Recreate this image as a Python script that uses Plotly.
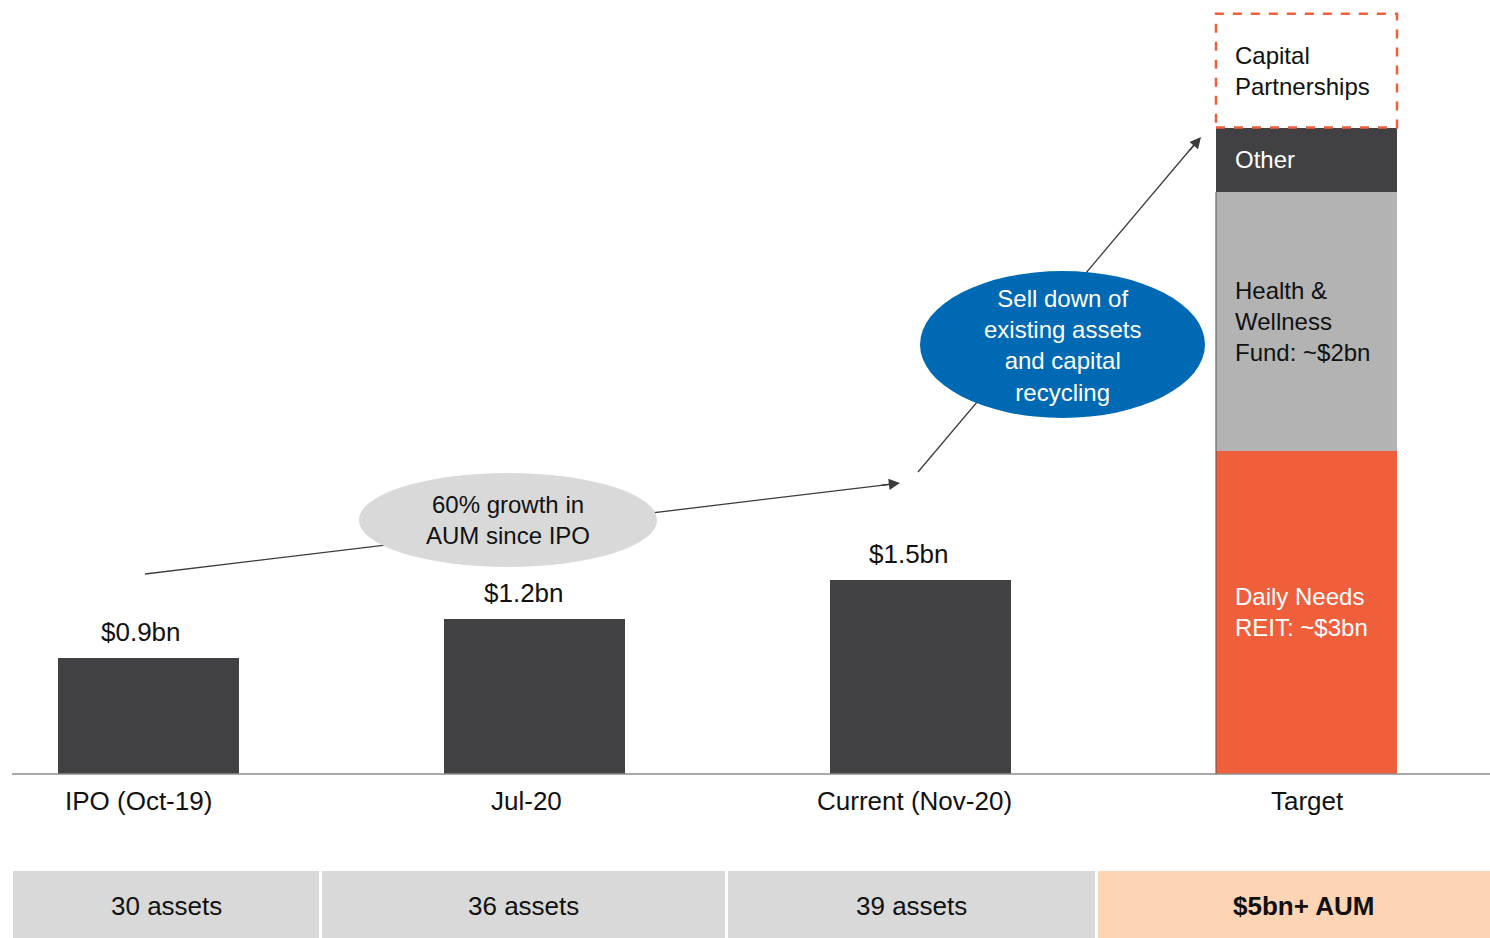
import plotly.graph_objects as go

# ---------------- data ----------------
periods = ["IPO (Oct-19)", "Jul-20", "Current (Nov-20)", "Target"]
aum_bn = [0.9, 1.2, 1.5]
value_labels = ["$0.9bn", "$1.2bn", "$1.5bn"]
target_segments = ["Daily Needs<br>REIT: ~$3bn", "Health &<br>Wellness<br>Fund: ~$2bn", "Other"]
target_values = [2.5, 2.0, 0.5]
capital_partnerships_label = "Capital<br>Partnerships"
capital_partnerships_value = 0.88
asset_labels = ["30 assets", "36 assets", "39 assets", "<b>$5bn+ AUM</b>"]
bubble1_text = "60% growth in<br>AUM since IPO"
bubble2_text = "Sell down of<br>existing assets<br>and capital<br>recycling"

# ---------------- style ----------------
W, H = 1490, 938
DARK = "#414042"
ORANGE = "#F05F3C"
GREY = "#B3B3B4"
BLUE = "#0069B4"
BUBBLE_GREY = "#D9D9DA"
TABLE_GREY = "#D9D9D9"
PEACH = "#FDD4B4"
FONT = "Liberation Sans, Arial, Helvetica, sans-serif"
BAR_W = 0.469


def px(x):
    return x / W


def py(y):
    return 1 - y / H


fig = go.Figure()

fig.add_trace(go.Bar(x=[0, 1, 2], y=aum_bn, width=BAR_W, marker=dict(color=DARK, line=dict(width=0)),
                     hoverinfo="skip"))
seg_colors = [ORANGE, GREY, DARK]
for name, v, c in zip(target_segments, target_values, seg_colors):
    fig.add_trace(go.Bar(x=[3], y=[v], width=BAR_W, marker=dict(color=c, line=dict(width=0)),
                         name=name, hoverinfo="skip"))

shapes = []
annotations = []

# baseline
shapes.append(dict(type="line", xref="paper", yref="y", x0=px(12), x1=1, y0=0, y1=0,
                   line=dict(color="#8C8C8C", width=1.3), layer="above"))

# thin dark left edge on the target bar
shapes.append(dict(type="line", xref="x", yref="y", x0=3 - BAR_W / 2, x1=3 - BAR_W / 2,
                   y0=0, y1=target_values[0] + target_values[1],
                   line=dict(color="#555555", width=1), layer="above"))

# dashed capital partnerships box
top_solid = sum(target_values)
shapes.append(dict(type="rect", xref="x", yref="y", x0=3 - BAR_W / 2, x1=3 + BAR_W / 2,
                   y0=top_solid, y1=top_solid + capital_partnerships_value,
                   line=dict(color=ORANGE, width=2.5, dash="dash"), fillcolor="white", layer="above"))

# trend lines (drawn before bubbles so bubbles cover them)
LINE_C = "#3C3C3C"
shapes.append(dict(type="line", xref="paper", yref="paper", x0=px(145), y0=py(574), x1=px(898), y1=py(483.3),
                   line=dict(color=LINE_C, width=1.3), layer="above"))
shapes.append(dict(type="line", xref="paper", yref="paper", x0=px(918), y0=py(472), x1=px(1199), y1=py(139),
                   line=dict(color=LINE_C, width=1.3), layer="above"))

# bubbles
shapes.append(dict(type="circle", xref="paper", yref="paper", x0=px(359), x1=px(657), y0=py(567), y1=py(473),
                   fillcolor=BUBBLE_GREY, line=dict(width=0), layer="above"))
shapes.append(dict(type="circle", xref="paper", yref="paper", x0=px(920), x1=px(1205), y0=py(418), y1=py(271),
                   fillcolor=BLUE, line=dict(width=0), layer="above"))

annotations.append(dict(xref="paper", yref="paper", x=px(508), y=py(520), text=bubble1_text, showarrow=False,
                        xanchor="center", yanchor="middle",
                        font=dict(family=FONT, size=24, color="#111111"), align="center"))
annotations.append(dict(xref="paper", yref="paper", x=px(1062), y=py(345), text=bubble2_text, showarrow=False,
                        xanchor="center", yanchor="middle",
                        font=dict(family=FONT, size=24, color="white"), align="center"))

# arrowheads
annotations.append(dict(xref="paper", yref="paper", x=px(900), y=py(483), ax=-20, ay=2.4, text="",
                        showarrow=True, arrowhead=2, arrowsize=1.6, arrowwidth=1.4, arrowcolor=LINE_C,
                        standoff=0))
annotations.append(dict(xref="paper", yref="paper", x=px(1201), y=py(137), ax=-13, ay=15.4, text="",
                        showarrow=True, arrowhead=2, arrowsize=1.6, arrowwidth=1.4, arrowcolor=LINE_C,
                        standoff=0))

# value labels
value_xshift = [-8, -11, -12]
for i, (v, t) in enumerate(zip(aum_bn, value_labels)):
    annotations.append(dict(x=i, y=v, xref="x", yref="y", text=t, showarrow=False, yanchor="middle",
                            xanchor="center", yshift=26, xshift=value_xshift[i],
                            font=dict(family=FONT, size=26, color="#111111")))

# period labels
for i, p in enumerate(periods):
    annotations.append(dict(x=i, y=0, xref="x", yref="y", text=p, showarrow=False, yanchor="middle",
                            xanchor="center", yshift=-27, xshift=[-10, -8, -6, 1][i],
                            font=dict(family=FONT, size=26, color="#111111")))

# segment labels
cum = 0
seg_text_colors = ["white", "#111111", "white"]
for name, v, tc in zip(target_segments, target_values, seg_text_colors):
    annotations.append(dict(x=3 - BAR_W / 2, y=cum + v / 2, xref="x", yref="y", text=name, showarrow=False,
                            xanchor="left", yanchor="middle", xshift=17, align="left",
                            font=dict(family=FONT, size=24, color=tc)))
    cum += v
annotations.append(dict(x=3 - BAR_W / 2, y=cum + capital_partnerships_value / 2, xref="x", yref="y",
                        text=capital_partnerships_label, showarrow=False, xanchor="left", yanchor="middle",
                        xshift=17, align="left", font=dict(family=FONT, size=24, color="#111111")))

# bottom table
cells = [(13, 319), (322, 725), (728, 1095), (1098, 1490)]
cell_colors = [TABLE_GREY, TABLE_GREY, TABLE_GREY, PEACH]
text_cx = [166, 523, 911, 1303]
for (x0, x1), c, lab, cx in zip(cells, cell_colors, asset_labels, text_cx):
    shapes.append(dict(type="rect", xref="paper", yref="paper", x0=px(x0), x1=px(x1), y0=0, y1=py(871),
                       fillcolor=c, line=dict(width=0), layer="above"))
    annotations.append(dict(xref="paper", yref="paper", x=px(cx), y=py(906), text=lab, showarrow=False,
                            xanchor="center", yanchor="middle",
                            font=dict(family=FONT, size=26, color="#111111")))

# axis ranges: baseline at y=774px, 129.3 px per bn; bars centred at 148.5 + 386*i px
PPB = 129.3
x_left = -148.5 / 386
x_right = (W - 148.5) / 386
fig.update_layout(
    width=W, height=H, margin=dict(l=0, r=0, t=0, b=0),
    paper_bgcolor="white", plot_bgcolor="white", showlegend=False,
    barmode="stack",
    xaxis=dict(range=[x_left, x_right], visible=False, fixedrange=True),
    yaxis=dict(range=[-(H - 774) / PPB, 774 / PPB], visible=False, fixedrange=True),
    shapes=shapes, annotations=annotations,
)

fig.write_html("out.html")
